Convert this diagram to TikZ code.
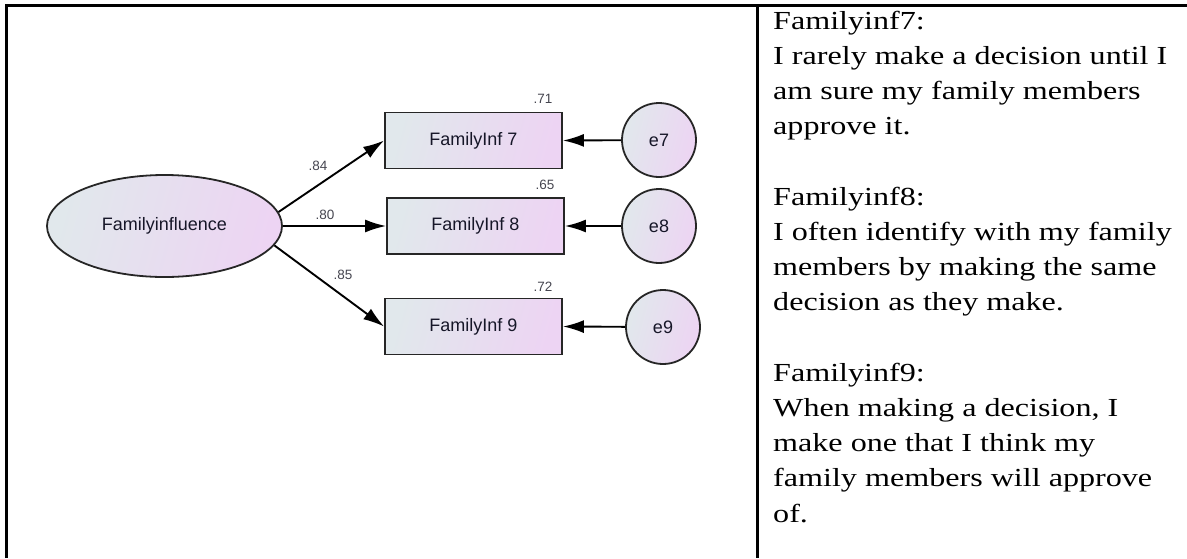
\documentclass[tikz,border=0pt]{standalone}
\usepackage{fontspec}
\usepackage{graphicx}
\setmainfont{Liberation Serif}
\setsansfont{Liberation Sans}
\usetikzlibrary{arrows.meta,shapes.geometric}
\definecolor{fillA}{HTML}{E1E8EC}
\definecolor{fillB}{HTML}{EDD4F3}
\definecolor{inkText}{HTML}{161628}
\definecolor{coefText}{HTML}{45454F}
\begin{document}
\begin{tikzpicture}[x=1pt,y=-1pt,
  shaded/.style={draw=black!85,line width=1.8pt,left color=fillA,right color=fillB,shading angle=75,
    text=inkText,font=\sffamily\fontsize{18}{20}\selectfont,inner sep=0pt},
  obsbox/.style={shaded,rectangle,minimum width=177pt,minimum height=56pt},
  errcircle/.style={shaded,circle,minimum size=74pt},
  latent/.style={shaded,ellipse,minimum width=235pt,minimum height=102pt},
  path/.style={line width=1.9pt,-{Latex[length=21pt,width=13pt]}},
  coef/.style={text=coefText,font=\sffamily\fontsize{13.5}{15}\selectfont,inner sep=0pt},
  frame/.style={line width=2.2pt}]
\useasboundingbox (0,0) rectangle (1187,558);

% table frame
\draw[frame] (6.5,558) -- (6.5,5.5) -- (1187,5.5);
\draw[frame] (757.5,5.5) -- (757.5,558);

% latent factor and indicators
\node[latent] (fi) at (164.5,226) {Familyinfluence};
\node[obsbox] (f7) at (473.5,140.5) {FamilyInf 7};
\node[obsbox] (f8) at (475.5,226) {FamilyInf 8};
\node[obsbox] (f9) at (473.5,326.5) {FamilyInf 9};
\node[errcircle] (e7) at (659,140) {e7};
\node[errcircle] (e8) at (659,226) {e8};
\node[errcircle] (e9) at (663,327) {e9};

% loadings
\draw[path] (fi.7) -- (f7.west);
\draw[path] (fi.east) -- (f8.west);
\draw[path] (fi.-10) -- (f9.west);
\draw[path] (e7) -- (f7.east);
\draw[path] (e8) -- (f8.east);
\draw[path] (e9) -- (f9.east);

% standardized estimates
\node[coef] (c84) at (318,166) {.84};
\node[coef] (c80) at (325,215) {.80};
\node[coef] (c85) at (343,275) {.85};
\node[coef] (r71) at (543,99) {.71};
\node[coef] (r65) at (545,185) {.65};
\node[coef] (r72) at (543,287) {.72};

% item wording, set wide as in the source table
\node[anchor=north west,inner sep=0pt] (items) at (773,4.5)
{\fontsize{26}{35.2}\selectfont\scalebox{1.235}[1]{\begin{tabular}{@{}l@{}}
Familyinf7:\\
I rarely make a decision until I\\
am sure my family members\\
approve it.\\
\\
Familyinf8:\\
I often identify with my family\\
members by making the same\\
decision as they make.\\
\\
Familyinf9:\\
When making a decision, I\\
make one that I think my\\
family members will approve\\
of.
\end{tabular}}};
\end{tikzpicture}
\end{document}
